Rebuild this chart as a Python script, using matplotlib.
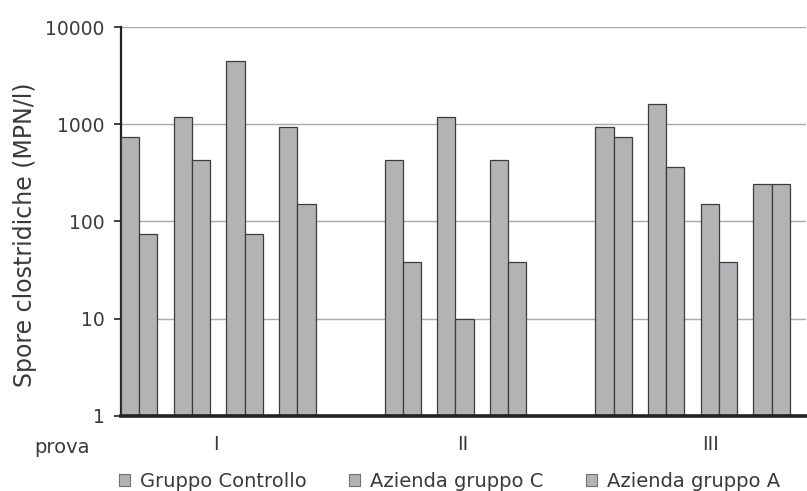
import numpy as np
import matplotlib
matplotlib.use("Agg")
import matplotlib.pyplot as plt
from matplotlib.patches import Patch

plt.rcParams["font.family"] = ["DejaVu Sans"]

# pair slots along the category axis (slot 4 and 8 are empty gaps)
group_names = ["I", "II", "III"]
slots_I = [0, 1, 2, 3]
slots_II = [5, 6, 7]
slots_III = [9, 10, 11, 12]

# spore counts (MPN/l), first and second bar of each pair
first_I = [740, 1200, 4500, 940]
second_I = [75, 430, 75, 150]
first_II = [430, 1200, 430]
second_II = [38, 10, 38]
first_III = [930, 1600, 150, 240]
second_III = [740, 360, 38, 240]

legend_labels = ["Gruppo Controllo", "Azienda gruppo C", "Azienda gruppo A"]
yticks = [1, 10, 100, 1000, 10000]

BAR = "#b3b3b6"
EDGE = "#3c3c3c"
TXT = "#3a3a3a"


def main() -> None:
    fig = plt.figure(figsize=(8.07, 4.91), dpi=100)
    ax = fig.add_axes([0.150, 0.153, 0.849, 0.792])

    slots = np.array(slots_I + slots_II + slots_III, dtype=float)
    first = np.array(first_I + first_II + first_III, dtype=float)
    second = np.array(second_I + second_II + second_III, dtype=float)

    w = 0.345
    ax.set_yscale("log")
    ax.bar(slots, first, width=w, align="edge",
           color=BAR, edgecolor=EDGE, linewidth=0.9, zorder=3)
    ax.bar(slots + w, second, width=w, align="edge",
           color=BAR, edgecolor=EDGE, linewidth=0.9, zorder=3)

    ax.set_ylim(1, 10000)
    ax.set_xlim(0, 13)
    ax.set_yticks(yticks)
    ax.set_yticklabels([str(v) for v in yticks])
    ax.minorticks_off()
    ax.yaxis.grid(True, color="#a8a8a8", linewidth=1.0, zorder=0)

    for s in ["top", "right"]:
        ax.spines[s].set_visible(False)
    ax.spines["left"].set_color("#222222")
    ax.spines["left"].set_linewidth(1.6)
    ax.spines["bottom"].set_color("#222222")
    ax.spines["bottom"].set_linewidth(2.6)
    ax.spines["bottom"].set_zorder(5)

    ax.tick_params(axis="y", length=5, width=1.2, color="#222222",
                   pad=7, labelsize=13.5, labelcolor=TXT)
    group_pos = [1.80, 6.49, 11.18]
    ax.set_xticks(group_pos)
    ax.set_xticklabels(group_names)
    ax.tick_params(axis="x", length=0, pad=14, labelsize=14, labelcolor=TXT)

    ax.set_ylabel("Spore clostridiche (MPN/l)", fontsize=17, color=TXT)
    ax.yaxis.set_label_coords(-0.122, 0.465)
    fig.text(0.077, 0.0896, "prova", fontsize=14, color=TXT, ha="center", va="center")

    handles = [Patch(facecolor=BAR, edgecolor="#707070", linewidth=0.8) for _ in legend_labels]
    fig.legend(handles, legend_labels, loc="center", bbox_to_anchor=(0.557, 0.02),
               ncol=3, frameon=False, fontsize=14, labelcolor=TXT,
               handlelength=0.57, handleheight=0.57, handletextpad=0.5,
               columnspacing=2.2, borderpad=0)

    fig.savefig("out.png", dpi=100, facecolor="white")


if __name__ == "__main__":
    main()
